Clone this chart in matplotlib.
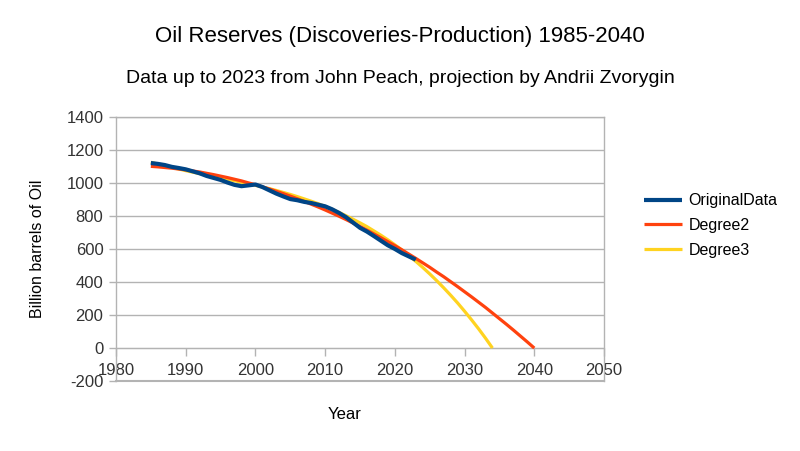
import matplotlib
matplotlib.use("Agg")
import matplotlib.pyplot as plt

plt.rcParams['font.family'] = ['Liberation Sans', 'DejaVu Sans']
plt.rcParams['axes.unicode_minus'] = False

orig_years = list(range(1985, 2024))
orig_values = [1120, 1115, 1108, 1097, 1090, 1082, 1070, 1058, 1042, 1030,
               1018, 1002, 988, 980, 985, 990, 975, 955, 935, 918,
               902, 895, 885, 878, 868, 858, 840, 818, 792, 760,
               728, 705, 678, 650, 622, 600, 575, 555, 535]

deg2_years = list(range(1985, 2041))
deg2_values = [1100, 1097, 1093, 1089, 1084, 1079, 1072, 1066, 1058, 1050,
               1041, 1032, 1022, 1012, 1000, 989, 976, 963, 949, 935,
               920, 904, 888, 871, 854, 836, 817, 798, 778, 757,
               736, 714, 691, 668, 644, 620, 595, 569, 543, 516,
               489, 460, 432, 402, 372, 341, 310, 278, 246, 212,
               178, 144, 109, 73, 37, 0]

deg3_years = list(range(1985, 2035))
deg3_values = [1125, 1114, 1103, 1093, 1084, 1074, 1065, 1056, 1048, 1039,
               1030, 1022, 1013, 1004, 995, 985, 975, 965, 954, 942,
               930, 917, 903, 889, 874, 857, 840, 821, 801, 780,
               758, 735, 709, 683, 655, 625, 594, 560, 525, 488,
               449, 408, 365, 320, 273, 223, 171, 117, 60, 0]

x_ticks = [1980, 1990, 2000, 2010, 2020, 2030, 2040, 2050]
y_ticks = [-200, 0, 200, 400, 600, 800, 1000, 1200, 1400]

grey = '#b3b3b3'
fig = plt.figure(figsize=(8, 4.51), dpi=100)
ax = fig.add_axes([0.145, 0.155, 0.61, 0.586])

l3, = ax.plot(deg3_years, deg3_values, color='#ffd320', lw=2.3, zorder=3, solid_capstyle='butt', label='Degree3')
l2, = ax.plot(deg2_years, deg2_values, color='#ff420e', lw=2.3, zorder=4, solid_capstyle='butt', label='Degree2')
l1, = ax.plot(orig_years, orig_values, color='#004586', lw=3.0, zorder=5, solid_capstyle='butt', label='OriginalData')

ax.set_xlim(1980, 2050)
ax.set_ylim(-200, 1400)
ax.set_xticks(x_ticks)
ax.set_yticks(y_ticks)
ax.yaxis.grid(True, color=grey, lw=1)
ax.set_axisbelow(True)

for s in ['top', 'left', 'right']:
    ax.spines[s].set_color(grey)
    ax.spines[s].set_linewidth(1)
ax.spines['bottom'].set_position(('data', 0))
ax.spines['bottom'].set_color(grey)
ax.axhline(-200, color=grey, lw=1.5, clip_on=False, zorder=1)

ax.tick_params(axis='x', direction='out', length=6, width=1, color=grey, pad=5,
               labelsize=12, labelcolor='#333333')
ax.tick_params(axis='y', direction='out', length=5, width=1, color=grey, pad=4,
               labelsize=12, labelcolor='#333333')

fig.text(0.5, 0.920, 'Oil Reserves (Discoveries-Production) 1985-2040', ha='center', va='center', fontsize=16)
fig.text(0.5, 0.825, 'Data up to 2023 from John Peach, projection by Andrii Zvorygin', ha='center', va='center', fontsize=14)
fig.text(0.431, 0.081, 'Year', ha='center', va='center', fontsize=12)
fig.text(0.047, 0.448, 'Billion barrels of Oil', ha='center', va='center', rotation=90, fontsize=11.5)

fig.legend(handles=[l1, l2, l3], loc='center left', bbox_to_anchor=(0.789, 0.50),
           frameon=False, fontsize=11.5, handlelength=2.4, handletextpad=0.4,
           labelspacing=0.6, borderpad=0.3)

fig.savefig('out.png', dpi=100)
